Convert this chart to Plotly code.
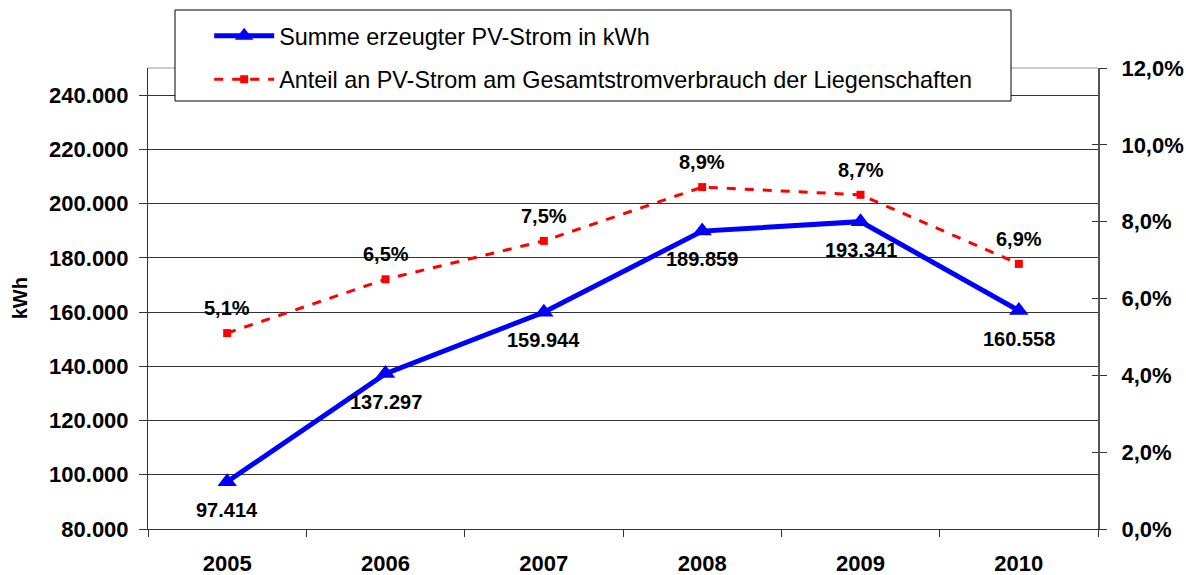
import plotly.graph_objects as go

years = ["2005", "2006", "2007", "2008", "2009", "2010"]
kwh = [97414, 137297, 159944, 189859, 193341, 160558]
share = [0.051, 0.065, 0.075, 0.089, 0.087, 0.069]
kwh_labels = ["97.414", "137.297", "159.944", "189.859", "193.341", "160.558"]
share_labels = ["5,1%", "6,5%", "7,5%", "8,9%", "8,7%", "6,9%"]
name_kwh = "Summe erzeugter PV-Strom in kWh"
name_share = "Anteil an PV-Strom am Gesamtstromverbrauch der Liegenschaften"
left_ticks = [80000, 100000, 120000, 140000, 160000, 180000, 200000, 220000, 240000]
right_ticks = [0, 0.02, 0.04, 0.06, 0.08, 0.10, 0.12]

FONT = "Liberation Sans, Arial, sans-serif"
BOLD = dict(family=FONT, size=22, color="black", weight="bold")

fig = go.Figure()
fig.add_trace(go.Scatter(
    x=years, y=kwh, name=name_kwh, mode="lines+markers",
    line=dict(color="#0000FF", width=5),
    marker=dict(symbol="triangle-up", size=17, color="#0000FF"),
    yaxis="y", legendgroup="a",
))
fig.add_trace(go.Scatter(
    x=years, y=share, name=name_share, mode="lines+markers",
    line=dict(color="#FF0000", width=3, dash="dash"),
    marker=dict(symbol="square", size=8, color="#FF0000"),
    yaxis="y2", legendgroup="b",
))

annots = []
for i, (v, t) in enumerate(zip(kwh, kwh_labels)):
    annots.append(dict(x=i, y=v, xref="x", yref="y", text="<b>%s</b>" % t,
                       showarrow=False, yshift=-28,
                       font=dict(family=FONT, size=20, color="black")))
for i, (v, t) in enumerate(zip(share, share_labels)):
    annots.append(dict(x=i, y=v, xref="x", yref="y2", text="<b>%s</b>" % t,
                       showarrow=False, yshift=25,
                       font=dict(family=FONT, size=20, color="black")))
annots.append(dict(x=-0.135, y=0.5, xref="paper", yref="paper", text="<b>kWh</b>",
                   textangle=-90, showarrow=False, xanchor="center", yanchor="middle",
                   font=dict(family=FONT, size=20, color="black")))

fig.update_layout(
    width=1186, height=575,
    margin=dict(l=148, r=88, t=68, b=46, autoexpand=False),
    paper_bgcolor="white", plot_bgcolor="white",
    separators=",.",
    font=dict(family=FONT, size=22, color="black"),
    showlegend=True,
    legend=dict(x=0.0644, y=1.117, xanchor="left", yanchor="top",
                bgcolor="rgba(0,0,0,0)", borderwidth=0,
                font=dict(family=FONT, size=23.4, color="black"),
                traceorder="grouped", tracegroupgap=10, itemwidth=60),
    xaxis=dict(type="category", range=[-0.5, 5.5], tickson="boundaries",
               ticks="outside", ticklen=7, tickcolor="#333333",
               showline=True, linecolor="#333333", linewidth=1,
               showgrid=False, ticklabelstandoff=15, tickfont=BOLD),
    yaxis=dict(range=[80000, 250000], tickvals=left_ticks, tickformat=",.0f",
               ticks="outside", ticklen=8, tickcolor="#333333",
               showline=True, linecolor="#333333", linewidth=1,
               showgrid=True, gridcolor="#333333", gridwidth=1,
               zeroline=False, ticklabelstandoff=6, tickfont=BOLD),
    yaxis2=dict(range=[0, 0.12], tickvals=right_ticks, tickformat=".1%",
                overlaying="y", side="right",
                ticks="outside", ticklen=7, tickcolor="#333333",
                showline=True, linecolor="#555555", linewidth=2,
                showgrid=False, zeroline=False, ticklabelstandoff=10,
                tickfont=BOLD),
    yaxis3=dict(range=[0, 0.12], tickvals=right_ticks, overlaying="y", side="right",
                ticks="inside", ticklen=6, tickcolor="#333333",
                showticklabels=False, showgrid=False, zeroline=False, showline=False),
    annotations=annots,
    shapes=[
        dict(type="line", xref="paper", yref="paper", x0=0, x1=1, y0=1, y1=1,
             line=dict(color="#999999", width=1), layer="below"),
        dict(type="rect", xref="paper", yref="paper",
             x0=(175 - 148) / 950, x1=(1011 - 148) / 950,
             y0=(529 - 101) / 461, y1=(529 - 10) / 461,
             fillcolor="white", line=dict(color="black", width=1), layer="above"),
    ],
)
# helper trace so that the crossing tick marks of the right axis are drawn
fig.add_trace(go.Scatter(x=[years[0]], y=[None], yaxis="y3", showlegend=False,
                         hoverinfo="skip", mode="markers"))

fig.write_html("out.html", config={"displayModeBar": False},
               post_script="document.body.style.margin='0';document.body.style.overflow='hidden';")
